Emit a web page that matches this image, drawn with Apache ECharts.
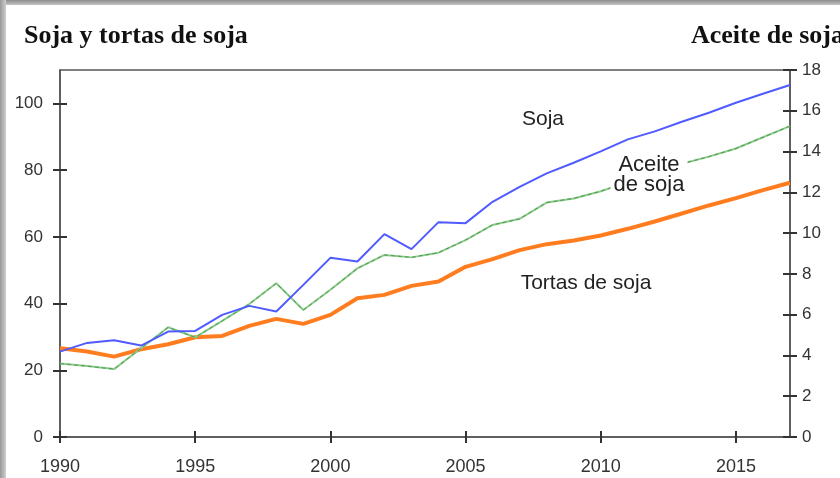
<!DOCTYPE html>
<html>
<head>
<meta charset="utf-8">
<script src="https://cdn.jsdelivr.net/npm/echarts@6/dist/echarts.min.js"></script>
<style>
  html, body { margin: 0; padding: 0; background: #fff; }
  .wrap { position: relative; width: 840px; height: 478px; overflow: hidden; }
  #chart { width: 840px; height: 478px; }
  .edgeTop { position: absolute; left: 0; top: 0; width: 840px; height: 5px;
    background: linear-gradient(to bottom, #8e8e8e, #c4c4c4); }
  .edgeLeft { position: absolute; left: 0; top: 0; width: 6px; height: 478px;
    background: linear-gradient(to right, #989898, #cfcfcf); }
</style>
</head>
<body>
<div class="wrap">
  <div id="chart"></div>
  <div class="edgeTop"></div>
  <div class="edgeLeft"></div>
</div>
<script>
// años
var years = [1990, 1991, 1992, 1993, 1994, 1995, 1996, 1997, 1998, 1999,
  2000, 2001, 2002, 2003, 2004, 2005, 2006, 2007, 2008, 2009,
  2010, 2011, 2012, 2013, 2014, 2015, 2016, 2017];
// soja (eje izq.)
var soja = [25.6, 28.2, 29.0, 27.4, 31.6, 31.8, 36.6, 39.3, 37.6, 45.6,
  53.7, 52.6, 60.8, 56.3, 64.4, 64.1, 70.5, 75.0, 79.0, 82.2,
  85.6, 89.2, 91.6, 94.5, 97.2, 100.2, 102.9, 105.5];
// tortas de soja (eje izq.)
var tortas = [26.6, 25.6, 24.1, 26.3, 27.8, 29.9, 30.3, 33.3, 35.4, 33.9,
  36.6, 41.6, 42.6, 45.3, 46.6, 51.0, 53.3, 56.0, 57.8, 58.9,
  60.4, 62.4, 64.6, 67.0, 69.4, 71.6, 74.0, 76.2];
// aceite de soja (eje der.)
var aceite = [3.6, 3.48, 3.33, 4.35, 5.38, 4.89, 5.7, 6.52, 7.54, 6.23,
  7.22, 8.27, 8.93, 8.81, 9.04, 9.66, 10.4, 10.7, 11.5, 11.7,
  12.05, 12.5, 12.9, 13.4, 13.75, 14.15, 14.7, 15.25];
var xTicks = [1990, 1995, 2000, 2005, 2010, 2015];
var leftTicks = [0, 20, 40, 60, 80, 100];
var rightTicks = [0, 2, 4, 6, 8, 10, 12, 14, 16, 18];

var pair = function (xs, ys) {
  return xs.map(function (x, i) { return [x, ys[i]]; });
};

var axisColor = '#555';
var labelStyle = { color: '#333', fontSize: 17, fontFamily: 'Liberation Sans, Arial, sans-serif' };
var titleFont = 'bold 26px "Liberation Serif", "Times New Roman", serif';
var noteFont = '21px "Liberation Sans", Arial, sans-serif';

var myChart = echarts.init(document.getElementById('chart'), null, { renderer: 'canvas' });
myChart.setOption({
  animation: false,
  backgroundColor: '#fff',
  grid: {
    left: 60, right: 50, top: 70, bottom: 41,
    show: true, borderColor: axisColor, borderWidth: 1.5, backgroundColor: 'transparent',
  },
  xAxis: [
    {
      type: 'value', min: 1990, max: 2017, position: 'bottom',
      splitLine: { show: false },
      axisLine: { show: true, lineStyle: { color: axisColor, width: 1.5 } },
      axisTick: { show: true, length: 6, customValues: xTicks, lineStyle: { color: '#333', width: 2 } },
      axisLabel: Object.assign({}, labelStyle, {
        margin: 21, fontSize: 18, customValues: xTicks,
        formatter: function (v) { return String(v); },
      }),
    },
    {
      type: 'value', min: 1990, max: 2017, position: 'bottom',
      splitLine: { show: false },
      axisLine: { show: false },
      axisTick: { show: true, inside: true, length: 6, customValues: xTicks, lineStyle: { color: '#333', width: 2 } },
      axisLabel: { show: false },
    },
  ],
  yAxis: [
    {
      type: 'value', min: 0, max: 110, position: 'left',
      splitLine: { show: false },
      axisLine: { show: true, lineStyle: { color: axisColor, width: 1.5 } },
      axisTick: { show: true, length: 7, customValues: leftTicks, lineStyle: { color: '#333', width: 2 } },
      axisLabel: Object.assign({ margin: 17, customValues: leftTicks }, labelStyle),
    },
    {
      type: 'value', min: 0, max: 18, interval: 2, position: 'right',
      splitLine: { show: false },
      axisLine: { show: true, lineStyle: { color: axisColor, width: 1.5 } },
      axisTick: { show: true, length: 7, lineStyle: { color: '#333', width: 2 } },
      axisLabel: Object.assign({ margin: 12 }, labelStyle),
    },
    {
      type: 'value', min: 0, max: 110, position: 'left',
      splitLine: { show: false },
      axisLine: { show: false },
      axisTick: { show: true, inside: true, length: 7, customValues: leftTicks, lineStyle: { color: '#333', width: 2 } },
      axisLabel: { show: false },
    },
    {
      type: 'value', min: 0, max: 18, interval: 2, position: 'right',
      splitLine: { show: false },
      axisLine: { show: false },
      axisTick: { show: true, inside: true, length: 7, customValues: rightTicks, lineStyle: { color: '#333', width: 2 } },
      axisLabel: { show: false },
    },
  ],
  series: [
    {
      name: 'Tortas de soja', type: 'line', xAxisIndex: 0, yAxisIndex: 0,
      data: pair(years, tortas), showSymbol: false,
      lineStyle: { color: '#ff7d1f', width: 4 },
    },
    {
      name: 'Aceite de soja', type: 'line', xAxisIndex: 0, yAxisIndex: 1,
      data: pair(years, aceite), showSymbol: false,
      lineStyle: { color: '#8ccc8c', width: 2 },
    },
    {
      name: 'Aceite de soja (trazo)', type: 'line', xAxisIndex: 0, yAxisIndex: 1,
      data: pair(years, aceite), showSymbol: false, silent: true,
      lineStyle: { color: '#4f9a4f', width: 1, type: [4, 3] },
    },
    {
      name: 'Soja', type: 'line', xAxisIndex: 0, yAxisIndex: 0,
      data: pair(years, soja), showSymbol: false,
      lineStyle: { color: '#4f5bff', width: 2 },
    },
  ],
  graphic: [
    {
      type: 'text', left: 24, top: 23, z: 100,
      style: { text: 'Soja y tortas de soja', fill: '#111', font: titleFont },
    },
    {
      type: 'text', right: -4, top: 23, z: 100,
      style: { text: 'Aceite de soja', fill: '#111', font: titleFont },
    },
    {
      type: 'text', x: 543, y: 119, z: 100,
      style: { text: 'Soja', fill: '#222', align: 'center', verticalAlign: 'middle', font: noteFont },
    },
    {
      type: 'text', x: 649, y: 175, z: 100,
      style: { text: 'Aceite\nde soja', fill: '#222', align: 'center', verticalAlign: 'middle',
        lineHeight: 20, backgroundColor: '#fff', padding: [0, 3],
        font: '22px "Liberation Sans", Arial, sans-serif' },
    },
    {
      type: 'text', x: 586, y: 283, z: 100,
      style: { text: 'Tortas de soja', fill: '#222', align: 'center', verticalAlign: 'middle', font: noteFont },
    },
  ],
});
</script>
</body>
</html>
